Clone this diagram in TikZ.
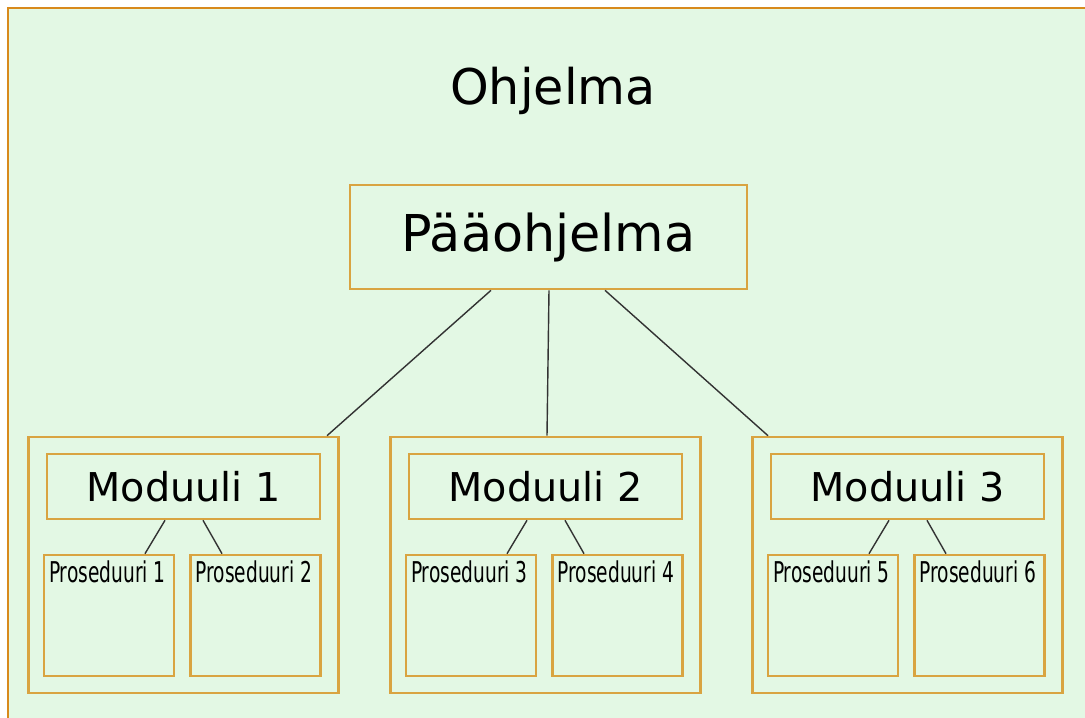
\documentclass[tikz,border=0pt]{standalone}
\usepackage{fontspec}
\setmainfont{DejaVu Sans}
\newfontfamily\condfont[FakeStretch=0.65]{DejaVu Sans}
\definecolor{bg}{HTML}{E3F8E4}
\definecolor{frame}{HTML}{D88A1C}
\definecolor{boxline}{HTML}{D9A441}
\definecolor{wirecol}{HTML}{333333}

\tikzset{
  box/.style={draw=boxline, line width=1.5pt, rectangle, inner sep=0pt},
  paabox/.style={box, minimum width=7.94cm, minimum height=2.08cm, font=\fontsize{28.9}{30}\selectfont},
  modbox/.style={box, minimum width=6.2cm, minimum height=5.12cm},
  modtitle/.style={box, minimum width=5.46cm, minimum height=1.3cm, font=\fontsize{22.6}{24}\selectfont},
  procbox/.style={box, minimum width=2.6cm, minimum height=2.42cm,
    label={[anchor=north west, inner sep=0pt, xshift=0.12cm, yshift=-0.14cm, font=\condfont\fontsize{16.3}{17}\selectfont]north west:#1}},
  wire/.style={draw=wirecol, line width=0.8pt},
}

\begin{document}
\begin{tikzpicture}[x=0.02cm, y=-0.02cm]
\useasboundingbox (0,0) rectangle (1085,717);
\clip (0,0) rectangle (1085,717);
\fill[white] (0,0) rectangle (1085,717);
\draw[draw=frame, fill=bg, line width=1.7pt] (8,8) rectangle (1110,740);

\node[font=\fontsize{28}{30}\selectfont] (ohj) at (553,91) {Ohjelma};
\node[paabox] (paa) at (548.5,237) {Pääohjelma};

% moduulit
\node[modbox] (m1) at (183.5,565) {};
\node[modbox] (m2) at (545.5,565) {};
\node[modbox] (m3) at (907.5,565) {};

\node[modtitle] (t1) at (183.5,486.5) {Moduuli 1};
\node[modtitle] (t2) at (545.5,486.5) {Moduuli 2};
\node[modtitle] (t3) at (907.5,486.5) {Moduuli 3};

% proseduurit
\node[procbox=Proseduuri 1] (p1) at (109,615.5) {};
\node[procbox=Proseduuri 2] (p2) at (255.5,615.5) {};
\node[procbox=Proseduuri 3] (p3) at (471,615.5) {};
\node[procbox=Proseduuri 4] (p4) at (617.5,615.5) {};
\node[procbox=Proseduuri 5] (p5) at (833,615.5) {};
\node[procbox=Proseduuri 6] (p6) at (979.5,615.5) {};

\path[wire] ([xshift=-1.15cm]paa.south) -- ([xshift=2.87cm]m1.north);
\path[wire] ([xshift=0.01cm]paa.south) -- ([xshift=0.03cm]m2.north);
\path[wire] ([xshift=1.13cm]paa.south) -- ([xshift=-2.79cm]m3.north);

\path[wire] ([xshift=-0.37cm]t1.south) -- ([xshift=0.72cm]p1.north);
\path[wire] ([xshift=0.39cm]t1.south) -- ([xshift=-0.67cm]p2.north);
\path[wire] ([xshift=-0.37cm]t2.south) -- ([xshift=0.72cm]p3.north);
\path[wire] ([xshift=0.39cm]t2.south) -- ([xshift=-0.67cm]p4.north);
\path[wire] ([xshift=-0.37cm]t3.south) -- ([xshift=0.72cm]p5.north);
\path[wire] ([xshift=0.39cm]t3.south) -- ([xshift=-0.67cm]p6.north);
\end{tikzpicture}
\end{document}
